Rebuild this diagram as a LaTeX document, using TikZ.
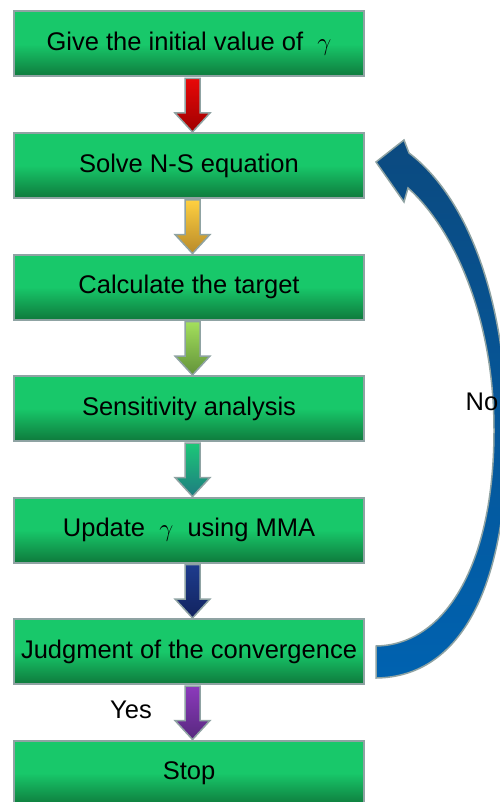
\documentclass[tikz,border=0pt]{standalone}
\usepackage{fontspec}
\setmainfont{Liberation Sans}
\usetikzlibrary{positioning,calc}

\definecolor{boxtop}{HTML}{18C86A}
\definecolor{boxbottom}{HTML}{0E7A3C}
\definecolor{boxline}{HTML}{8FA3A3}
\definecolor{loopdark}{HTML}{0B4A80}
\definecolor{looplight}{HTML}{0062B0}
\definecolor{redtop}{HTML}{E80808}
\definecolor{redbot}{HTML}{9E0000}
\definecolor{goldtop}{HTML}{FFD040}
\definecolor{goldbot}{HTML}{B88A2A}
\definecolor{limetop}{HTML}{A4E05C}
\definecolor{limebot}{HTML}{62923A}
\definecolor{tealtop}{HTML}{1CC878}
\definecolor{tealbot}{HTML}{1E7C80}
\definecolor{navytop}{HTML}{1E3C8E}
\definecolor{navybot}{HTML}{12235E}
\definecolor{purptop}{HTML}{8C3ABC}
\definecolor{purpbot}{HTML}{56287E}

\tikzset{
  stepbox/.style={rectangle, draw=boxline, line width=2pt,
    top color=boxtop, bottom color=boxbottom, middle color=boxtop,
    minimum width=350pt, minimum height=65pt, inner sep=0pt,
    font=\fontsize{25.5}{30}\selectfont},
  arrowline/.style={draw=boxline, line width=1.5pt, line join=miter},
  label/.style={font=\fontsize{25.5}{30}\selectfont},
}

% block arrow between two boxes: from, to, top colour, bottom colour
\newcommand{\flowarrow}[4]{%
  \shade[arrowline, top color=#3, bottom color=#4]
    ($(#1.south)+(-4,1)$) -- ($(#2.north)+(-4,-19)$) -- ($(#2.north)+(-14,-19)$)
    -- ($(#2.north)+(3.5,0)$) -- ($(#2.north)+(21,-19)$) -- ($(#2.north)+(11,-19)$)
    -- ($(#1.south)+(11,1)$) -- cycle;
}

\begin{document}
\begin{tikzpicture}[x=1pt, y=-1pt, node distance=54.5pt]
    \useasboundingbox (0,0) rectangle (499,802);

    % Steps
    \node[stepbox] (init) at (189,44) {Give the initial value of\ \ $\gamma$};
    \node[stepbox, below=of init] (solve) {Solve N-S equation};
    \node[stepbox, below=of solve] (target) {Calculate the target};
    \node[stepbox, below=of target] (sens) {Sensitivity analysis};
    \node[stepbox, below=of sens] (update) {Update\ \ $\gamma$\ \ using MMA};
    \node[stepbox, below=of update] (judge) {Judgment of the convergence};
    \node[stepbox, below=of judge] (stop) {Stop};

    % Arrows between steps
    \flowarrow{init}{solve}{redtop}{redbot}
    \flowarrow{solve}{target}{goldtop}{goldbot}
    \flowarrow{target}{sens}{limetop}{limebot}
    \flowarrow{sens}{update}{tealtop}{tealbot}
    \flowarrow{update}{judge}{navytop}{navybot}
    \flowarrow{judge}{stop}{purptop}{purpbot}

    % Loop back when not converged
    \shade[arrowline, top color=loopdark, bottom color=looplight]
      ($(judge.east)+(11,26.5)$)
        .. controls (462,677) and (508,585) .. (507,430)
        .. controls (506,300) and (468,198) .. ($(solve.east)+(44,-12.5)$)
      -- ($(solve.east)+(39,-25.5)$)
      -- ($(solve.east)+(11,-3.5)$)
      -- ($(solve.east)+(39,36.5)$)
      -- ($(solve.east)+(43,22.5)$)
        .. controls (455,230) and (494,320) .. (494,430)
        .. controls (494,565) and (445,645) .. ($(judge.east)+(11,-5.5)$)
      -- cycle;

    % Labels
    \node[label] (no) at (482,402) {No};
    \node[label] (yes) at ($(judge.south)+(-58,25)$) {Yes};
  \end{tikzpicture}
\end{document}
